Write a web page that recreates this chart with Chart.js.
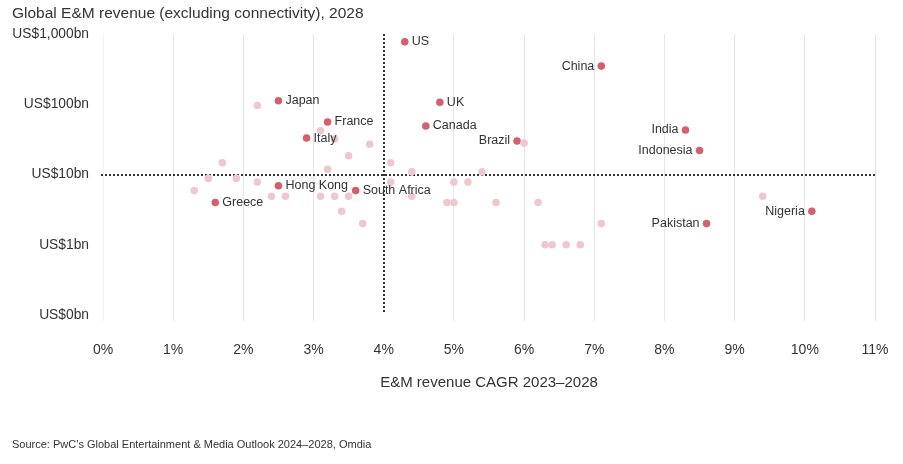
<!DOCTYPE html>
<html>
<head>
<meta charset="utf-8">
<script src="https://cdn.jsdelivr.net/npm/chart.js@4"></script>
<style>
  html, body { margin: 0; padding: 0; background: #ffffff; }
  #wrap { width: 903px; height: 464px; position: relative; }
</style>
</head>
<body>
<div id="wrap"><canvas id="c" width="903" height="464"></canvas></div>
<script>
// ---- Data ----
const countryNames = ['US','China','Japan','UK','France','Canada','India','Italy','Brazil','Indonesia','Hong Kong','South Africa','Greece','Nigeria','Pakistan'];
const countryCagr  = [4.3, 7.1, 2.5, 4.8, 3.2, 4.6, 8.3, 2.9, 5.9, 8.5, 2.5, 3.6, 1.6, 10.1, 8.6];
const countryRevenue = [774, 349, 112, 107, 56, 49, 43, 33, 30, 22, 6.9, 5.9, 4.0, 3.0, 2.0];
const labelSide = ['right','left','right','right','right','right','left','right','left','left','right','right','right','left','left'];

const otherCagr = [2.2, 3.1, 3.3, 3.8, 3.5, 1.7, 4.1, 3.2, 4.4, 5.4, 1.5, 1.9, 2.2, 4.1, 5.0, 5.2, 1.3, 2.4, 2.6, 3.1, 3.3, 3.5, 4.4, 9.4, 4.9, 5.0, 5.6, 6.2, 3.4, 3.7, 7.1, 6.3, 6.4, 6.6, 6.8, 6.0];
const otherRevenue = [96, 42, 32, 27, 18.5, 14.7, 14.7, 11.9, 10.9, 10.9, 8.8, 8.8, 7.8, 7.8, 7.8, 7.8, 5.9, 4.9, 4.9, 4.9, 4.9, 4.9, 4.9, 4.9, 4.0, 4.0, 4.0, 4.0, 3.0, 2.0, 2.0, 1.0, 1.0, 1.0, 1.0, 28];

const yTickValues = [0.1, 1, 10, 100, 1000];
const yTickLabels = ['US$0bn', 'US$1bn', 'US$10bn', 'US$100bn', 'US$1,000bn'];
const xTickValues = [0,1,2,3,4,5,6,7,8,9,10,11];

const refCagr = 4;      // vertical dotted reference
const refRevenue = 10;  // horizontal dotted reference

const titleText = 'Global E&M revenue (excluding connectivity), 2028';
const xTitleText = 'E&M revenue CAGR 2023\u20132028';
const sourceText = 'Source: PwC\u2019s Global Entertainment & Media Outlook 2024\u20132028, Omdia';

// ---- Styles ----
const FONT = "'Liberation Sans', Arial, Helvetica, sans-serif";
const HIGHLIGHT = '#d5606d';
const FADED = '#efc8ce';
const TEXT = '#333333';

const refLinesPlugin = {
  id: 'refLines',
  beforeDatasetsDraw(chart) {
    const {ctx, chartArea, scales} = chart;
    const x = Math.round(scales.x.getPixelForValue(refCagr));
    const y = Math.round(scales.y.getPixelForValue(refRevenue));
    ctx.save();
    ctx.strokeStyle = '#333';
    ctx.lineWidth = 2;
    ctx.setLineDash([2, 2]);
    ctx.beginPath();
    ctx.moveTo(x, chartArea.top);
    ctx.lineTo(x, chartArea.bottom - 2);
    ctx.stroke();
    ctx.beginPath();
    ctx.moveTo(chartArea.left - 2, y);
    ctx.lineTo(chartArea.right, y);
    ctx.stroke();
    ctx.restore();
  }
};

const pointLabelsPlugin = {
  id: 'pointLabels',
  afterDatasetsDraw(chart) {
    const {ctx} = chart;
    const meta = chart.getDatasetMeta(1);
    ctx.save();
    ctx.font = '12.5px ' + FONT;
    ctx.fillStyle = TEXT;
    ctx.textBaseline = 'middle';
    meta.data.forEach((el, i) => {
      const side = labelSide[i];
      ctx.textAlign = side === 'right' ? 'left' : 'right';
      const dx = side === 'right' ? 7 : -7;
      ctx.fillText(countryNames[i], el.x + dx, el.y);
    });
    ctx.restore();
  }
};

new Chart(document.getElementById('c'), {
  type: 'scatter',
  data: {
    datasets: [
      {
        label: 'Other markets',
        data: otherCagr.map((v, i) => ({x: v, y: otherRevenue[i]})),
        backgroundColor: FADED,
        borderWidth: 0,
        pointRadius: 3.8,
        pointHoverRadius: 3.8
      },
      {
        label: 'Highlighted markets',
        data: countryCagr.map((v, i) => ({x: v, y: countryRevenue[i]})),
        backgroundColor: HIGHLIGHT,
        borderWidth: 0,
        pointRadius: 3.8,
        pointHoverRadius: 3.8
      }
    ]
  },
  options: {
    responsive: false,
    animation: false,
    devicePixelRatio: 1,
    layout: { padding: { left: 12, right: 28, top: 0, bottom: 0 } },
    plugins: {
      legend: { display: false },
      tooltip: { enabled: false },
      title: {
        display: true,
        text: titleText,
        align: 'start',
        color: TEXT,
        font: { family: FONT, size: 15.5, weight: 'normal' },
        padding: { top: 4, bottom: 11.4 }
      },
      subtitle: {
        display: true,
        text: sourceText,
        position: 'bottom',
        align: 'start',
        color: TEXT,
        font: { family: FONT, size: 11, weight: 'normal' },
        padding: { top: 0, bottom: 12 }
      }
    },
    scales: {
      x: {
        type: 'linear',
        min: 0,
        max: 11,
        afterBuildTicks: (s) => { s.ticks = xTickValues.map(v => ({value: v})); },
        afterFit: (s) => { s.height = 123.8; s.paddingLeft = 0; s.paddingRight = 0; },
        ticks: {
          color: TEXT,
          font: { family: FONT, size: 14 },
          padding: 21,
          callback: (v) => v + '%'
        },
        grid: {
          drawTicks: true,
          tickLength: 6,
          lineWidth: 1,
          color: (c) => c.tick && c.tick.value === refCagr ? 'rgba(0,0,0,0)' : (c.tick && c.tick.value === 0 ? '#f2f2f2' : '#e6e6e6'),
          tickColor: (c) => c.tick && c.tick.value === refCagr ? 'rgba(0,0,0,0)' : (c.tick && c.tick.value === 0 ? '#f2f2f2' : '#e6e6e6')
        },
        border: { display: false },
        title: {
          display: true,
          text: xTitleText,
          color: TEXT,
          font: { family: FONT, size: 15 },
          padding: { top: 0, bottom: 46.8 }
        }
      },
      y: {
        type: 'logarithmic',
        min: 0.1,
        max: 1000,
        afterBuildTicks: (s) => { s.ticks = yTickValues.map(v => ({value: v})); },
        afterFit: (s) => { s.width = 91; s.paddingTop = 0; s.paddingBottom = 0; },
        ticks: {
          color: TEXT,
          font: { family: FONT, size: 13.8 },
          padding: 14,
          callback: (v) => {
            const i = yTickValues.indexOf(v);
            return i >= 0 ? yTickLabels[i] : '';
          }
        },
        grid: { display: false, drawTicks: false },
        border: { display: false }
      }
    }
  },
  plugins: [refLinesPlugin, pointLabelsPlugin]
});
</script>
</body>
</html>
